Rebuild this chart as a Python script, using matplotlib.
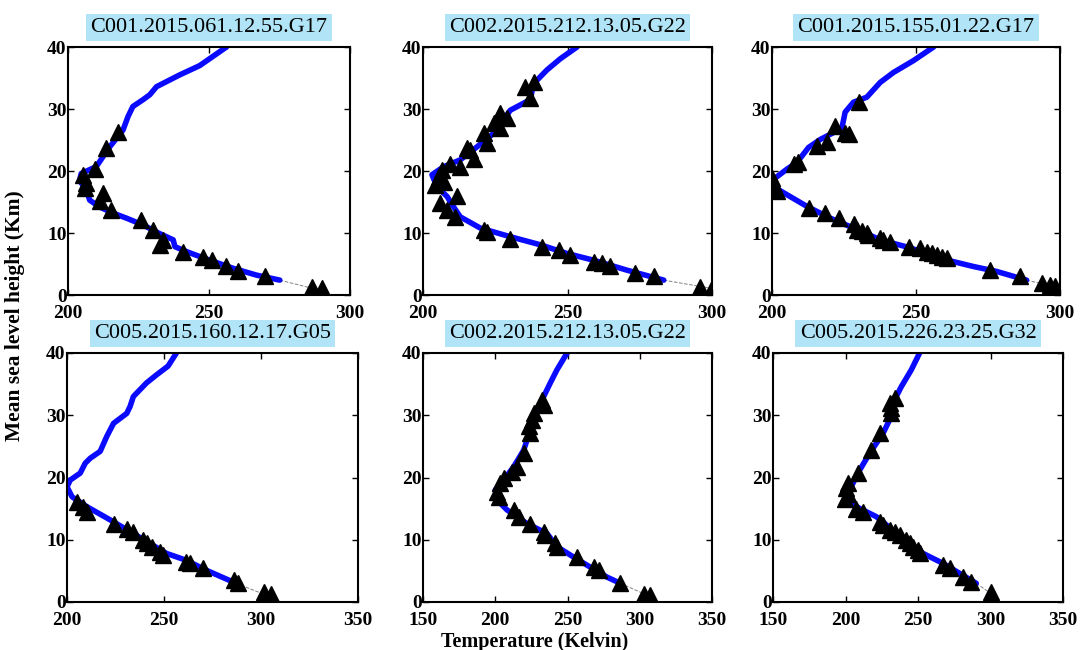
import matplotlib
matplotlib.use("Agg")
import matplotlib.pyplot as plt

plt.rcParams['font.family'] = ['Liberation Serif', 'DejaVu Serif']

titles = ["C001.2015.061.12.55.G17", "C002.2015.212.13.05.G22", "C001.2015.155.01.22.G17",
          "C005.2015.160.12.17.G05", "C002.2015.212.13.05.G22", "C005.2015.226.23.25.G32"]

# blue model profiles (temperature K, height km)
line1_t = [256.2, 246.7, 239.6, 231.4, 229.0, 226.6, 223.0, 221.3, 219.5, 214.8, 210.0, 204.7, 204.1,
           206.5, 207.7, 211.2, 216.0, 220.7, 226.6, 232.5, 237.3, 237.9, 242.0, 250.3, 258.6, 266.9, 275.1]
line1_h = [40, 37.0, 35.5, 33.6, 32.3, 31.5, 30.4, 28.8, 26.6, 23.9, 20.7, 19.6, 18.5,
           16.9, 15.3, 14.2, 13.2, 12.4, 11.3, 9.9, 8.9, 7.8, 7.0, 5.6, 4.3, 3.2, 2.4]
line2_t = [253.3, 247.5, 242.9, 238.3, 237.1, 230.2, 224.5, 218.7, 212.9, 207.2, 203.1, 204.8, 208.3,
           210.6, 212.9, 219.8, 230.2, 240.6, 249.8, 259.1, 270.6, 283.3]
line2_h = [40, 38.1, 36.3, 34.1, 31.5, 29.8, 26.1, 23.9, 21.8, 20.7, 19.4, 17.5, 15.9,
           14.2, 12.6, 10.8, 9.4, 8.1, 6.7, 5.6, 4.0, 2.4]
line3_t = [256.1, 249.1, 242.2, 237.6, 232.9, 228.3, 225.4, 224.3, 221.4, 216.8, 212.7, 208.7, 205.2,
           201.2, 200.6, 202.9, 212.1, 220.2, 228.3, 237.6, 248.0, 258.4, 269.9, 278.0, 288.4]
line3_h = [40, 37.8, 35.9, 34.3, 31.9, 31.1, 29.5, 27.0, 26.2, 25.1, 23.8, 21.4, 20.3,
           18.9, 17.6, 16.8, 14.3, 12.4, 10.8, 8.9, 7.6, 5.9, 4.6, 3.8, 2.4]
line4_t = [256.4, 252.1, 246.2, 241.0, 234.2, 232.5, 230.8, 224.0, 220.5, 217.1, 212.0, 209.4, 206.8,
           201.7, 200.0, 202.6, 210.3, 222.2, 234.2, 242.7, 251.3, 261.5, 271.8, 287.2]
line4_h = [40, 37.9, 36.5, 35.2, 33.0, 31.4, 30.3, 28.7, 26.6, 24.2, 23.1, 22.3, 20.7,
           19.6, 18.5, 16.9, 15.3, 13.2, 11.0, 9.4, 7.8, 6.7, 5.1, 3.0]
line5_t = [249.7, 242.7, 238.1, 233.5, 228.9, 224.3, 219.7, 212.7, 205.8, 200.0, 201.2, 208.1, 221.9,
           235.8, 242.7, 254.3, 265.8, 277.3, 286.6]
line5_h = [40, 37.3, 35.2, 33.0, 30.9, 27.7, 24.4, 21.7, 19.6, 18.0, 16.4, 14.8, 12.6,
           11.0, 8.9, 7.2, 5.6, 4.0, 3.0]
line6_t = [251.1, 245.4, 238.5, 233.9, 230.5, 225.9, 216.7, 209.8, 205.2, 201.8, 200.6, 207.5, 221.3,
           232.8, 244.3, 253.5, 267.3, 278.7, 290.2]
line6_h = [40, 37.3, 34.6, 32.5, 29.3, 27.1, 23.9, 21.2, 19.1, 17.7, 16.4, 15.3, 13.7,
           11.5, 9.4, 7.8, 6.2, 4.6, 3.0]

# thin gray extension down to the surface
ext1_t, ext1_h = [275.1, 289.0], [2.4, 0.8]
ext2_t, ext2_h = [283.3, 299.4], [2.4, 1.1]
ext3_t, ext3_h = [288.4, 297.7], [2.4, 1.4]
ext4_t, ext4_h = [287.2, 302.6], [3.0, 1.1]
ext5_t, ext5_h = [286.6, 305.0], [3.0, 1.1]
ext6_t, ext6_h = [290.2, 300.6], [3.0, 1.3]

# black triangles: observations
obs1_t = [217.8, 213.6, 209.5, 205.3, 206.5, 205.9, 212.4, 211.2, 215.4, 226.0, 230.2, 233.7, 232.5,
          240.8, 247.9, 250.9, 256.2, 260.4, 269.8, 286.4, 290.0]
obs1_h = [26.3, 23.7, 20.4, 19.4, 18.0, 17.2, 16.4, 15.1, 13.7, 12.1, 10.5, 8.9, 8.1,
          7.0, 6.2, 5.6, 4.6, 3.8, 3.0, 1.3, 1.1]
obs2_t = [235.4, 238.3, 237.1, 226.7, 229.0, 224.5, 226.7, 221.0, 222.1, 215.2, 216.4, 217.5, 209.5,
          212.9, 206.6, 205.4, 207.2, 204.3, 211.8, 206.0, 208.3, 211.2, 221.0, 222.1, 230.2, 241.2,
          246.9, 251.0, 259.1, 261.9, 264.8, 273.5, 279.8, 296.0, 300.0]
obs2_h = [33.6, 34.4, 31.7, 29.3, 28.5, 27.7, 26.9, 26.1, 24.5, 23.7, 23.4, 22.0, 21.2,
          20.7, 20.2, 19.1, 18.3, 17.7, 15.9, 14.8, 13.7, 12.6, 10.5, 10.2, 9.1, 7.8,
          7.3, 6.5, 5.4, 5.1, 4.6, 3.5, 3.0, 1.3, 1.1]
obs3_t = [230.1, 222.0, 225.4, 226.6, 219.1, 215.6, 209.2, 207.5, 200.0, 200.6, 201.7, 212.7, 218.5,
          223.1, 228.3, 229.5, 231.2, 232.9, 233.5, 237.6, 238.7, 241.0, 247.4, 251.4, 253.8, 255.5,
          257.2, 259.0, 260.7, 275.7, 286.1, 293.6, 296.5, 298.3]
obs3_h = [31.1, 27.3, 26.2, 25.9, 24.6, 24.1, 21.4, 21.1, 18.9, 17.8, 16.8, 14.1, 13.2,
          12.4, 11.4, 10.5, 10.3, 10.0, 9.7, 9.2, 8.9, 8.6, 7.8, 7.6, 7.0, 6.8,
          6.5, 6.2, 5.9, 4.1, 3.0, 1.9, 1.6, 1.5]
obs4_t = [205.1, 208.5, 210.3, 224.0, 230.8, 234.2, 239.3, 241.0, 243.6, 247.9, 249.6, 261.5, 263.2,
          270.1, 286.3, 288.0, 301.7, 305.1]
obs4_h = [16.1, 15.3, 14.5, 12.6, 11.8, 11.3, 9.9, 9.4, 8.9, 8.1, 7.5, 6.4, 6.2,
          5.4, 3.5, 3.0, 1.6, 1.3]
obs5_t = [232.4, 233.5, 226.6, 225.4, 223.1, 224.3, 219.7, 215.1, 211.6, 205.8, 203.5, 201.2, 202.4,
          212.7, 216.2, 224.3, 233.5, 234.6, 241.6, 242.7, 256.6, 268.1, 271.6, 286.6, 302.7, 307.3]
obs5_h = [32.5, 31.7, 30.3, 29.3, 28.2, 27.1, 23.9, 21.7, 20.9, 19.9, 19.1, 17.7, 16.9,
          14.8, 13.7, 12.6, 11.3, 10.7, 9.4, 8.9, 7.2, 5.6, 5.1, 3.0, 1.3, 1.1]
obs6_t = [233.9, 230.5, 231.6, 231.6, 223.6, 217.8, 208.6, 201.7, 200.6, 201.7, 199.4, 207.5, 212.1,
          223.6, 225.9, 230.5, 233.9, 237.4, 242.0, 244.3, 246.6, 250.0, 251.1, 267.3, 271.8, 281.0,
          286.8, 300.6, 300.6]
obs6_h = [32.8, 31.9, 31.1, 30.3, 27.1, 24.4, 20.7, 19.1, 18.3, 17.4, 16.6, 15.0, 14.5,
          12.9, 12.3, 11.5, 11.3, 10.7, 9.9, 9.4, 8.9, 8.3, 7.8, 5.9, 5.4, 4.0,
          3.2, 1.6, 1.1]

lines = [(line1_t, line1_h), (line2_t, line2_h), (line3_t, line3_h),
         (line4_t, line4_h), (line5_t, line5_h), (line6_t, line6_h)]
exts = [(ext1_t, ext1_h), (ext2_t, ext2_h), (ext3_t, ext3_h),
        (ext4_t, ext4_h), (ext5_t, ext5_h), (ext6_t, ext6_h)]
obs = [(obs1_t, obs1_h), (obs2_t, obs2_h), (obs3_t, obs3_h),
       (obs4_t, obs4_h), (obs5_t, obs5_h), (obs6_t, obs6_h)]
xlims = [(200, 300), (200, 300), (200, 300), (200, 350), (150, 350), (150, 350)]
xticks = [[200, 250, 300], [200, 250, 300], [200, 250, 300],
          [200, 250, 300, 350], [150, 200, 250, 300, 350], [150, 200, 250, 300, 350]]

# axes boxes in pixels: left, top, right, bottom
boxes = [(68, 47, 350, 295), (423, 47, 712, 295), (772, 47, 1060, 295),
         (67, 353, 358, 602), (423, 353, 712, 602), (773, 353, 1063, 602)]

W, H = 1080, 650
fig = plt.figure(figsize=(W / 100, H / 100), dpi=100)

for i in range(6):
    l, t, r, b = boxes[i]
    ax = fig.add_axes([l / W, (H - b) / H, (r - l) / W, (b - t) / H])
    ax.plot(exts[i][0], exts[i][1], '--', color='gray', lw=0.7)
    ax.plot(lines[i][0], lines[i][1], color='#0a0aff', lw=4, solid_capstyle='round')
    ax.plot(obs[i][0], obs[i][1], '^', color='black', ms=11, ls='none')
    ax.set_xlim(xlims[i])
    ax.set_ylim(0, 40)
    ax.set_xticks(xticks[i])
    ax.set_yticks([0, 10, 20, 30, 40])
    ax.tick_params(direction='in', top=True, right=True, length=4, width=1, labelsize=14)
    ax.tick_params(axis='x', pad=7)
    ax.tick_params(axis='y', pad=1)
    for lab in ax.get_xticklabels() + ax.get_yticklabels():
        lab.set_fontweight('bold')
    for s in ax.spines.values():
        s.set_linewidth(1.5)
    ax.set_title(titles[i], fontsize=16, pad=11,
                 bbox=dict(facecolor='#b0e4f6', edgecolor='none', pad=3))

fig.text(0.014, 0.515, "Mean sea level height (Km)", rotation=90, ha='center', va='center',
         fontsize=15.5, fontweight='bold')
fig.text(0.495, 0.013, "Temperature (Kelvin)", ha='center', va='center',
         fontsize=14.5, fontweight='bold')

fig.savefig("out.png", dpi=100)
